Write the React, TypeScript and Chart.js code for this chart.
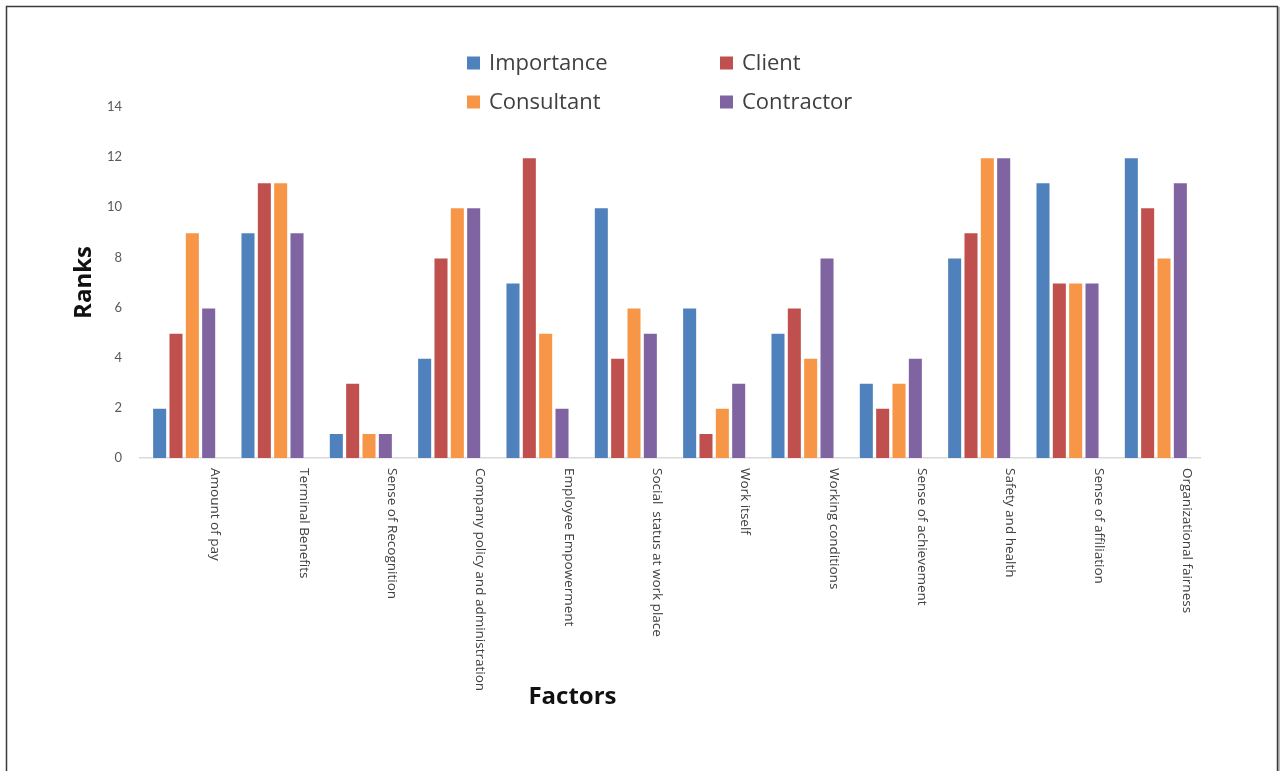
import React, { useEffect, useRef } from "react";
import { Chart, registerables } from "chart.js";

Chart.register(...registerables);

const factors = [
  "Amount of pay",
  "Terminal Benefits",
  "Sense of Recognition",
  "Company policy and administration",
  "Employee Empowerment",
  "Social  status at work place",
  "Work itself",
  "Working conditions",
  "Sense of achievement",
  "Safety and health",
  "Sense of affiliation",
  "Organizational fairness",
];

const importance = [2, 9, 1, 4, 7, 10, 6, 5, 3, 8, 11, 12];
const client = [5, 11, 3, 8, 12, 4, 1, 6, 2, 9, 7, 10];
const consultant = [9, 11, 1, 10, 5, 6, 2, 4, 3, 12, 7, 8];
const contractor = [6, 9, 1, 10, 2, 5, 3, 8, 4, 12, 7, 11];

const seriesNames = ["Importance", "Client", "Consultant", "Contractor"];
const seriesColors = ["#4F81BD", "#C0504D", "#F79646", "#8064A2"];

const yTicks = [0, 2, 4, 6, 8, 10, 12, 14];

const FONT = "Lato, 'Open Sans', sans-serif";
const WIDE_FONT = "'Open Sans', Lato, sans-serif";

// Draws the frame, the two-column legend, the downward-reading category labels
// and both axis titles.
const decorations = {
  id: "decorations",
  beforeDraw(chart: any) {
    const { ctx, width } = chart;
    ctx.save();
    ctx.fillStyle = "#ffffff";
    ctx.fillRect(0, 0, chart.width, chart.height);
    // frame with a soft shadow on the right edge
    ctx.strokeStyle = "#bdbdbd";
    ctx.lineWidth = 2;
    ctx.beginPath();
    ctx.moveTo(width - 2, 7);
    ctx.lineTo(width - 2, chart.height);
    ctx.stroke();
    ctx.strokeStyle = "#3a3a3a";
    ctx.lineWidth = 1.5;
    ctx.beginPath();
    ctx.moveTo(6.5, chart.height);
    ctx.lineTo(6.5, 6.5);
    ctx.lineTo(width - 3.5, 6.5);
    ctx.lineTo(width - 3.5, chart.height);
    ctx.stroke();
    ctx.restore();
  },
  afterDraw(chart: any) {
    const { ctx, chartArea } = chart;
    const xScale = chart.scales.x;
    ctx.save();

    // legend: two rows of two items
    const legendX = [467, 720];
    const legendY = [63, 102];
    ctx.font = `22px ${WIDE_FONT}`;
    ctx.textBaseline = "middle";
    ctx.textAlign = "left";
    chart.data.datasets.forEach((ds: any, i: number) => {
      const col = i % 2;
      const row = Math.floor(i / 2);
      const x = legendX[col];
      const y = legendY[row];
      ctx.fillStyle = ds.backgroundColor;
      ctx.fillRect(x, y - 6.5, 13, 13);
      ctx.fillStyle = "#404040";
      ctx.fillText(ds.label, x + 22, y + 1);
    });

    // category labels, rotated to read top to bottom
    ctx.font = `13.5px ${WIDE_FONT}`;
    ctx.fillStyle = "#404040";
    ctx.textAlign = "left";
    ctx.textBaseline = "middle";
    const labels = chart.data.labels as string[];
    labels.forEach((lab, i) => {
      const x = xScale.getPixelForValue(i) + xScale.width / labels.length * 0.35;
      ctx.save();
      ctx.translate(x, chartArea.bottom + 10);
      ctx.rotate(Math.PI / 2);
      ctx.fillText(lab, 0, 0);
      ctx.restore();
    });

    // axis titles
    ctx.fillStyle = "#111111";
    ctx.font = `bold 24px ${WIDE_FONT}`;
    ctx.textAlign = "center";
    ctx.textBaseline = "middle";
    ctx.fillText("Factors", chartArea.left + chartArea.width * 0.408, 697);
    ctx.save();
    ctx.translate(84, (chartArea.top + chartArea.bottom) / 2);
    ctx.rotate(-Math.PI / 2);
    ctx.fillText("Ranks", 0, 0);
    ctx.restore();

    ctx.restore();
  },
};

export default function App() {
  const canvasRef = useRef<HTMLCanvasElement | null>(null);

  useEffect(() => {
    const canvas = canvasRef.current;
    if (!canvas) return;
    const values = [importance, client, consultant, contractor];
    const chart = new Chart(canvas, {
      type: "bar",
      data: {
        labels: factors,
        datasets: values.map((data, i) => ({
          label: seriesNames[i],
          data,
          backgroundColor: seriesColors[i],
          borderColor: "rgba(255,255,255,0.6)",
          borderWidth: 1,
          categoryPercentage: 0.74,
          barPercentage: 0.92,
        })),
      },
      options: {
        responsive: false,
        animation: false,
        layout: { padding: { top: 107, right: 81, left: 0, bottom: 0 } },
        plugins: {
          legend: { display: false },
          tooltip: { enabled: false },
        },
        scales: {
          x: {
            grid: { display: false, drawTicks: false },
            border: { display: true, color: "#d9d9d9", width: 1.5 },
            ticks: { display: false },
            afterFit: (scale: any) => {
              scale.height = 771 - 458;
            },
          },
          y: {
            min: 0,
            max: 14,
            afterBuildTicks: (scale: any) => {
              scale.ticks = yTicks.map((v) => ({ value: v }));
            },
            grid: { display: false, drawTicks: false },
            border: { display: false },
            ticks: {
              padding: 18,
              color: "#595959",
              font: { family: FONT, size: 13 },
            },
            afterFit: (scale: any) => {
              scale.width = 140;
            },
          },
        },
      },
      plugins: [decorations],
    });
    return () => chart.destroy();
  }, []);

  return (
    <div style={{ position: "fixed", left: 0, top: 0, width: 1281, height: 771, background: "#fff" }}>
      <canvas ref={canvasRef} width={1281} height={771} style={{ display: "block" }} />
    </div>
  );
}
